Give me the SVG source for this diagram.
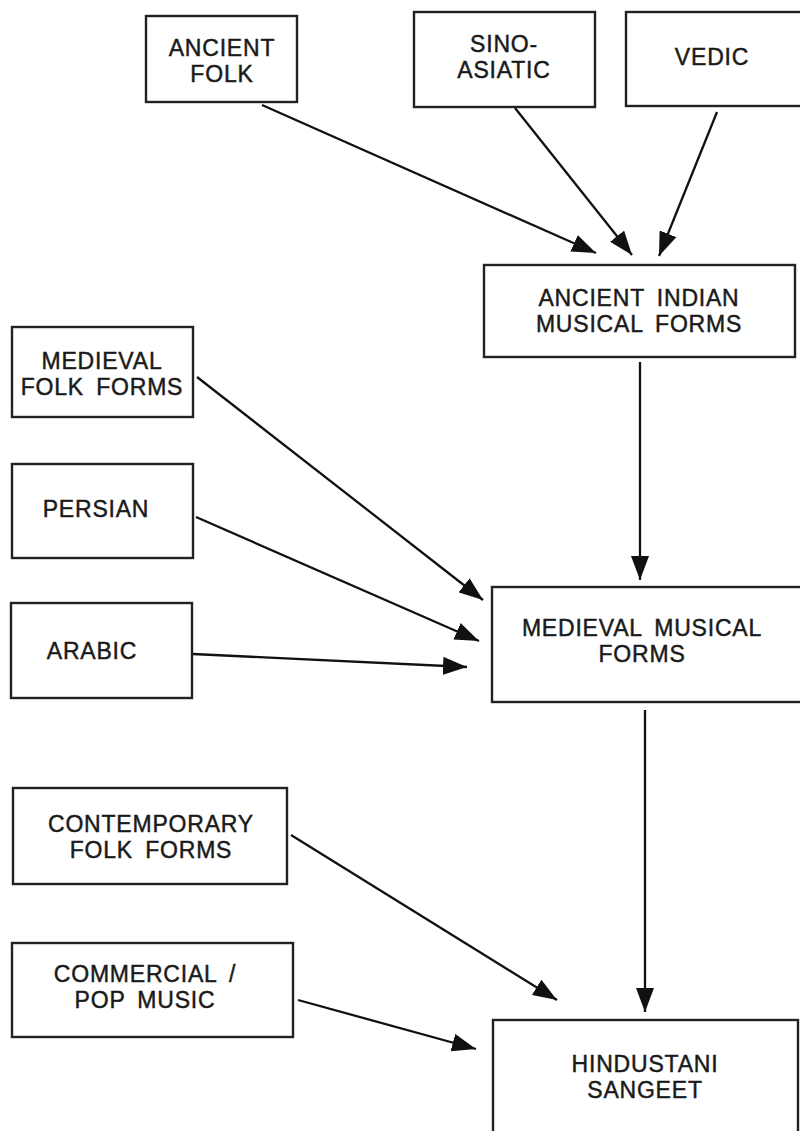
<svg xmlns="http://www.w3.org/2000/svg" width="800" height="1131" viewBox="0 0 800 1131">
<defs>
<style>
.box{fill:#fff;stroke:#222;stroke-width:2.4}
.t{font-family:"Liberation Sans",Arial,sans-serif;font-size:23px;letter-spacing:0.8px;word-spacing:5px;fill:#1a1a1a;stroke:#1a1a1a;stroke-width:0.45;text-anchor:middle}
.c{stroke:#111;stroke-width:2.3;fill:none}
</style>
<marker id="ah" viewBox="0 0 24 18" refX="24" refY="9" markerWidth="24" markerHeight="18" markerUnits="userSpaceOnUse" orient="auto">
<path d="M0,0 L24,9 L0,18 Z" fill="#111"/>
</marker>
</defs>
<rect width="800" height="1131" fill="#fff"/>
<g id="connectors">
<line class="c" x1="262" y1="105" x2="596" y2="253" marker-end="url(#ah)"/>
<line class="c" x1="515" y1="108" x2="632" y2="255" marker-end="url(#ah)"/>
<line class="c" x1="717" y1="112" x2="659" y2="256" marker-end="url(#ah)"/>
<line class="c" x1="640" y1="362" x2="640" y2="580" marker-end="url(#ah)"/>
<line class="c" x1="197" y1="377" x2="483" y2="600" marker-end="url(#ah)"/>
<line class="c" x1="196" y1="517" x2="479" y2="641" marker-end="url(#ah)"/>
<line class="c" x1="193" y1="654" x2="467" y2="667" marker-end="url(#ah)"/>
<line class="c" x1="645" y1="710" x2="645" y2="1012" marker-end="url(#ah)"/>
<line class="c" x1="291" y1="835" x2="557" y2="1000" marker-end="url(#ah)"/>
<line class="c" x1="298" y1="1000" x2="476" y2="1049" marker-end="url(#ah)"/>
</g>
<g id="ancient-folk">
<rect class="box" x="146" y="16" width="151" height="86"/>
<text class="t" x="222" y="56">ANCIENT</text>
<text class="t" x="222" y="82">FOLK</text>
</g>
<g id="sino-asiatic">
<rect class="box" x="414" y="12" width="181" height="95"/>
<text class="t" x="504" y="52">SINO-</text>
<text class="t" x="504" y="78">ASIATIC</text>
</g>
<g id="vedic">
<rect class="box" x="626" y="12" width="190" height="94"/>
<text class="t" x="712" y="65">VEDIC</text>
</g>
<g id="ancient-indian">
<rect class="box" x="484" y="265" width="311" height="92"/>
<text class="t" x="639" y="306">ANCIENT INDIAN</text>
<text class="t" x="639" y="332">MUSICAL FORMS</text>
</g>
<g id="medieval-folk">
<rect class="box" x="12" y="327" width="181" height="90"/>
<text class="t" x="102" y="369">MEDIEVAL</text>
<text class="t" x="102" y="395">FOLK FORMS</text>
</g>
<g id="persian">
<rect class="box" x="12" y="464" width="181" height="94"/>
<text class="t" x="96" y="517">PERSIAN</text>
</g>
<g id="arabic">
<rect class="box" x="11" y="603" width="181" height="95"/>
<text class="t" x="92" y="659">ARABIC</text>
</g>
<g id="medieval-musical">
<rect class="box" x="492" y="587" width="320" height="115"/>
<text class="t" x="642" y="636">MEDIEVAL MUSICAL</text>
<text class="t" x="642" y="662">FORMS</text>
</g>
<g id="contemporary-folk">
<rect class="box" x="13" y="788" width="274" height="96"/>
<text class="t" x="151" y="832">CONTEMPORARY</text>
<text class="t" x="151" y="858">FOLK FORMS</text>
</g>
<g id="commercial-pop">
<rect class="box" x="12" y="943" width="281" height="94"/>
<text class="t" x="145" y="982">COMMERCIAL /</text>
<text class="t" x="145" y="1008">POP MUSIC</text>
</g>
<g id="hindustani-sangeet">
<rect class="box" x="493" y="1020" width="305" height="130"/>
<text class="t" x="645" y="1072">HINDUSTANI</text>
<text class="t" x="645" y="1098">SANGEET</text>
</g>
</svg>
